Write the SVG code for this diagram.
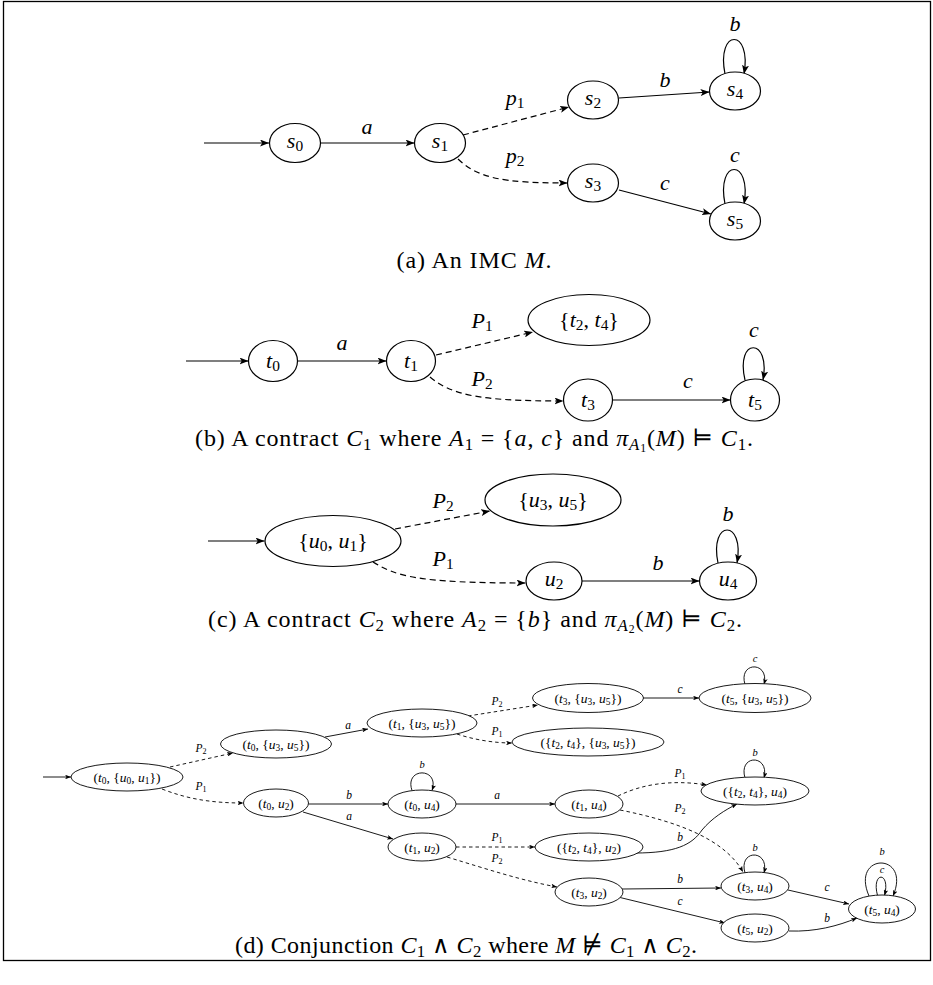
<svg xmlns="http://www.w3.org/2000/svg" width="933" height="985" viewBox="0 0 933 985">
<style>
text { font-family: "Liberation Serif", "DejaVu Serif", serif; fill: #000; }
.m { font-style: italic; }
.sb { font-size: 70%; baseline-shift: -0.22em; }
.n { fill: #fff; stroke: #000; stroke-width: 1.2; }
.ns { fill: #fff; stroke: #000; stroke-width: 0.9; }
.e { fill: none; stroke: #000; stroke-width: 1.2; marker-end: url(#ah); }
.d { stroke-dasharray: 6 4; }
.es { fill: none; stroke: #000; stroke-width: 0.9; marker-end: url(#ahs); }
.ds { stroke-dasharray: 3.5 3; }
.lb { font-size: 22px; text-anchor: middle; }
.el { font-size: 22px; text-anchor: middle; }
.cap { font-size: 24px; text-anchor: middle; }
.lbs { font-size: 13.5px; text-anchor: middle; }
.els { font-size: 11.5px; text-anchor: middle; }
.lps { font-size: 10.5px; text-anchor: middle; font-style: italic; }
</style>
<defs>
<marker id="ah" markerUnits="userSpaceOnUse" markerWidth="9" markerHeight="7" viewBox="0 0 9 7" refX="9" refY="3.5" orient="auto">
<path d="M0,0 L9,3.5 L0,7 L2.2,3.5 Z" fill="#000"/>
</marker>
<marker id="ahs" markerUnits="userSpaceOnUse" markerWidth="6" markerHeight="4.6" viewBox="0 0 9 7" refX="9" refY="3.5" orient="auto">
<path d="M0,0 L9,3.5 L0,7 L2.2,3.5 Z" fill="#000"/>
</marker>
</defs>

<rect x="3.5" y="1.5" width="927" height="959" fill="none" stroke="#000" stroke-width="1.3"/>

<!-- (a) IMC M -->
<g id="edges-a">
<path class="e" d="M204,143 L269,143"/>
<path class="e" d="M320.5,143 L414.5,143"/>
<path class="e d" d="M463,135 L569,107"/>
<path class="e d" d="M458,159 C478,178 502,183 567.5,183"/>
<path class="e" d="M619,98 L709.5,92"/>
<path class="e" d="M619,190 L711,214"/>
<path class="e" d="M725,74 C716,28 752,28 744,74"/>
<path class="e" d="M725,204 C716,158 752,158 744,204"/>
<text class="el" x="367" y="134"><tspan class="m">a</tspan></text>
<text class="el" x="515" y="105"><tspan class="m">p</tspan><tspan class="sb">1</tspan></text>
<text class="el" x="515" y="163"><tspan class="m">p</tspan><tspan class="sb">2</tspan></text>
<text class="el" x="665" y="87"><tspan class="m">b</tspan></text>
<text class="el" x="665" y="190"><tspan class="m">c</tspan></text>
<text class="el" x="735" y="31"><tspan class="m">b</tspan></text>
<text class="el" x="735" y="162"><tspan class="m">c</tspan></text>
</g>
<g id="s0"><ellipse class="n" cx="295" cy="143" rx="25.5" ry="19.5"/><text class="lb" x="295" y="148"><tspan class="m">s</tspan><tspan class="sb">0</tspan></text></g>
<g id="s1"><ellipse class="n" cx="440" cy="143" rx="25.5" ry="19.5"/><text class="lb" x="440" y="148"><tspan class="m">s</tspan><tspan class="sb">1</tspan></text></g>
<g id="s2"><ellipse class="n" cx="593" cy="100" rx="25.5" ry="19"/><text class="lb" x="593" y="105"><tspan class="m">s</tspan><tspan class="sb">2</tspan></text></g>
<g id="s3"><ellipse class="n" cx="593" cy="183" rx="25.5" ry="19"/><text class="lb" x="593" y="188"><tspan class="m">s</tspan><tspan class="sb">3</tspan></text></g>
<g id="s4"><ellipse class="n" cx="735" cy="91" rx="25.5" ry="19"/><text class="lb" x="735" y="96"><tspan class="m">s</tspan><tspan class="sb">4</tspan></text></g>
<g id="s5"><ellipse class="n" cx="735" cy="221" rx="25.5" ry="19"/><text class="lb" x="735" y="226"><tspan class="m">s</tspan><tspan class="sb">5</tspan></text></g>
<text class="cap" x="474" y="268" textLength="155">(a) An IMC <tspan class="m">M</tspan>.</text>

<!-- (b) contract C1 -->
<g id="edges-b">
<path class="e" d="M186,361 L248.5,361"/>
<path class="e" d="M297.5,361 L386.5,361"/>
<path class="e d" d="M436,355 L533,332"/>
<path class="e d" d="M430,377 C452,395 478,401 563.5,401"/>
<path class="e" d="M612.5,400 L730.5,400"/>
<path class="e" d="M745,380 C735,337 771,337 763,380"/>
<text class="el" x="342" y="350"><tspan class="m">a</tspan></text>
<text class="el" x="482" y="328"><tspan class="m">P</tspan><tspan class="sb">1</tspan></text>
<text class="el" x="482" y="386"><tspan class="m">P</tspan><tspan class="sb">2</tspan></text>
<text class="el" x="688" y="388"><tspan class="m">c</tspan></text>
<text class="el" x="754" y="337"><tspan class="m">c</tspan></text>
</g>
<g id="t0"><ellipse class="n" cx="273" cy="361" rx="24.5" ry="20.5"/><text class="lb" x="273" y="368"><tspan class="m">t</tspan><tspan class="sb">0</tspan></text></g>
<g id="t1"><ellipse class="n" cx="411" cy="361" rx="24.5" ry="20.5"/><text class="lb" x="411" y="368"><tspan class="m">t</tspan><tspan class="sb">1</tspan></text></g>
<g id="t24"><ellipse class="n" cx="589" cy="320" rx="61" ry="25.5"/><text class="lb" x="589" y="327">{<tspan class="m">t</tspan><tspan class="sb">2</tspan>, <tspan class="m">t</tspan><tspan class="sb">4</tspan>}</text></g>
<g id="t3"><ellipse class="n" cx="588" cy="400" rx="24.5" ry="21"/><text class="lb" x="588" y="407"><tspan class="m">t</tspan><tspan class="sb">3</tspan></text></g>
<g id="t5"><ellipse class="n" cx="755" cy="400" rx="24.5" ry="21"/><text class="lb" x="755" y="407"><tspan class="m">t</tspan><tspan class="sb">5</tspan></text></g>
<text class="cap" x="474" y="446" textLength="558">(b) A contract <tspan class="m">C</tspan><tspan class="sb">1</tspan> where <tspan class="m">A</tspan><tspan class="sb">1</tspan> = {<tspan class="m">a</tspan>, <tspan class="m">c</tspan>} and <tspan class="m">π</tspan><tspan class="sb"><tspan class="m">A</tspan><tspan class="sb">1</tspan></tspan>(<tspan class="m">M</tspan>) ⊨ <tspan class="m">C</tspan><tspan class="sb">1</tspan>.</text>

<!-- (c) contract C2 -->
<g id="edges-c">
<path class="e" d="M208,541 L264.5,541"/>
<path class="e d" d="M395,529 L490,511"/>
<path class="e d" d="M373,562 C396,576 416,583 525.5,583"/>
<path class="e" d="M582,581 L699.5,581"/>
<path class="e" d="M718,563 C709,519 745,519 737,563"/>
<text class="el" x="443" y="508"><tspan class="m">P</tspan><tspan class="sb">2</tspan></text>
<text class="el" x="443" y="566"><tspan class="m">P</tspan><tspan class="sb">1</tspan></text>
<text class="el" x="658" y="570"><tspan class="m">b</tspan></text>
<text class="el" x="728" y="521"><tspan class="m">b</tspan></text>
</g>
<g id="u01"><ellipse class="n" cx="333" cy="541" rx="68" ry="25.5"/><text class="lb" x="333" y="548">{<tspan class="m">u</tspan><tspan class="sb">0</tspan>, <tspan class="m">u</tspan><tspan class="sb">1</tspan>}</text></g>
<g id="u35"><ellipse class="n" cx="553" cy="500" rx="68" ry="26"/><text class="lb" x="553" y="507">{<tspan class="m">u</tspan><tspan class="sb">3</tspan>, <tspan class="m">u</tspan><tspan class="sb">5</tspan>}</text></g>
<g id="u2"><ellipse class="n" cx="554" cy="581" rx="28" ry="19"/><text class="lb" x="554" y="586"><tspan class="m">u</tspan><tspan class="sb">2</tspan></text></g>
<g id="u4"><ellipse class="n" cx="728" cy="581" rx="28.5" ry="19"/><text class="lb" x="728" y="586"><tspan class="m">u</tspan><tspan class="sb">4</tspan></text></g>
<text class="cap" x="475" y="627" textLength="534">(c) A contract <tspan class="m">C</tspan><tspan class="sb">2</tspan> where <tspan class="m">A</tspan><tspan class="sb">2</tspan> = {<tspan class="m">b</tspan>} and <tspan class="m">π</tspan><tspan class="sb"><tspan class="m">A</tspan><tspan class="sb">2</tspan></tspan>(<tspan class="m">M</tspan>) ⊨ <tspan class="m">C</tspan><tspan class="sb">2</tspan>.</text>

<!-- (d) conjunction C1 ∧ C2 -->
<g id="edges-d">
<path class="es" d="M43,777 L71,777"/>
<path class="es ds" d="M170,767 L233,753"/>
<path class="es ds" d="M162,789 C190,800 215,803 243.5,803"/>
<path class="es" d="M325,737 L368,729"/>
<path class="es ds" d="M468,716 L538,705"/>
<path class="es ds" d="M457,734 C475,740 495,743 512,743"/>
<path class="es" d="M643,698 L699,698"/>
<path class="es" d="M745,684.5 C738,661 770,661 764,684.5"/>
<path class="es" d="M308.5,804 L388,804"/>
<path class="es" d="M412,790.5 C404,767 440,767 432,790.5"/>
<path class="es" d="M456,804 L555,804"/>
<path class="es" d="M303,812 L393,839"/>
<path class="es ds" d="M456,847 L535,847"/>
<path class="es ds" d="M447,857 C490,870 520,880 557,887"/>
<path class="es ds" d="M618,796 C640,785 670,779 707,785"/>
<path class="es ds" d="M620,810 C680,822 725,840 743,872"/>
<path class="es" d="M635,853 C675,853 692,845 702,830 C712,818 725,810 737,804"/>
<path class="es" d="M745,778 C738,754 770,754 764,778"/>
<path class="es" d="M745,873 C738,849 770,849 764,873"/>
<path class="es" d="M622,889 L721,888"/>
<path class="es" d="M618,897 L725,923"/>
<path class="es" d="M788,890 L849,904"/>
<path class="es" d="M789,931 C815,932 838,926 857,918"/>
<path class="es" d="M877.5,895.5 C871,871 891,871 884.5,895.5"/>
<path class="es" d="M869,896 C850,852 912,852 893,896"/>
<text class="els" x="201" y="752"><tspan class="m">P</tspan><tspan class="sb">2</tspan></text>
<text class="els" x="201" y="790"><tspan class="m">P</tspan><tspan class="sb">1</tspan></text>
<text class="els" x="348" y="729"><tspan class="m">a</tspan></text>
<text class="els" x="497" y="705"><tspan class="m">P</tspan><tspan class="sb">2</tspan></text>
<text class="els" x="497" y="735"><tspan class="m">P</tspan><tspan class="sb">1</tspan></text>
<text class="els" x="680" y="693"><tspan class="m">c</tspan></text>
<text class="lps" x="755" y="662">c</text>
<text class="els" x="349" y="799"><tspan class="m">b</tspan></text>
<text class="els" x="349" y="820"><tspan class="m">a</tspan></text>
<text class="lps" x="422" y="768">b</text>
<text class="els" x="497" y="799"><tspan class="m">a</tspan></text>
<text class="els" x="497" y="841"><tspan class="m">P</tspan><tspan class="sb">1</tspan></text>
<text class="els" x="497" y="862"><tspan class="m">P</tspan><tspan class="sb">2</tspan></text>
<text class="lps" x="755" y="756">b</text>
<text class="els" x="680" y="777"><tspan class="m">P</tspan><tspan class="sb">1</tspan></text>
<text class="els" x="680" y="812"><tspan class="m">P</tspan><tspan class="sb">2</tspan></text>
<text class="els" x="680" y="841"><tspan class="m">b</tspan></text>
<text class="lps" x="755" y="851">b</text>
<text class="els" x="680" y="883"><tspan class="m">b</tspan></text>
<text class="els" x="680" y="905"><tspan class="m">c</tspan></text>
<text class="els" x="827" y="891"><tspan class="m">c</tspan></text>
<text class="els" x="827" y="922"><tspan class="m">b</tspan></text>
<text class="lps" x="882" y="855">b</text>
<text class="lps" x="882" y="873">c</text>
</g>
<g id="t0_u01"><ellipse class="ns" cx="127" cy="777" rx="56" ry="14"/><text class="lbs" x="127" y="781.5">(<tspan class="m">t</tspan><tspan class="sb">0</tspan>, {<tspan class="m">u</tspan><tspan class="sb">0</tspan>, <tspan class="m">u</tspan><tspan class="sb">1</tspan>})</text></g>
<g id="t0_u35"><ellipse class="ns" cx="276" cy="744" rx="55.5" ry="14"/><text class="lbs" x="276" y="748.5">(<tspan class="m">t</tspan><tspan class="sb">0</tspan>, {<tspan class="m">u</tspan><tspan class="sb">3</tspan>, <tspan class="m">u</tspan><tspan class="sb">5</tspan>})</text></g>
<g id="t0_u2"><ellipse class="ns" cx="276" cy="803" rx="32.5" ry="14"/><text class="lbs" x="276" y="807.5">(<tspan class="m">t</tspan><tspan class="sb">0</tspan>, <tspan class="m">u</tspan><tspan class="sb">2</tspan>)</text></g>
<g id="t1_u35"><ellipse class="ns" cx="422" cy="723" rx="55" ry="14"/><text class="lbs" x="422" y="727.5">(<tspan class="m">t</tspan><tspan class="sb">1</tspan>, {<tspan class="m">u</tspan><tspan class="sb">3</tspan>, <tspan class="m">u</tspan><tspan class="sb">5</tspan>})</text></g>
<g id="t3_u35"><ellipse class="ns" cx="588" cy="698" rx="55.5" ry="14.5"/><text class="lbs" x="588" y="702.5">(<tspan class="m">t</tspan><tspan class="sb">3</tspan>, {<tspan class="m">u</tspan><tspan class="sb">3</tspan>, <tspan class="m">u</tspan><tspan class="sb">5</tspan>})</text></g>
<g id="t24_u35"><ellipse class="ns" cx="588" cy="742" rx="76" ry="14"/><text class="lbs" x="588" y="746.5">({<tspan class="m">t</tspan><tspan class="sb">2</tspan>, <tspan class="m">t</tspan><tspan class="sb">4</tspan>}, {<tspan class="m">u</tspan><tspan class="sb">3</tspan>, <tspan class="m">u</tspan><tspan class="sb">5</tspan>})</text></g>
<g id="t5_u35"><ellipse class="ns" cx="755" cy="698" rx="56" ry="14.5"/><text class="lbs" x="755" y="702.5">(<tspan class="m">t</tspan><tspan class="sb">5</tspan>, {<tspan class="m">u</tspan><tspan class="sb">3</tspan>, <tspan class="m">u</tspan><tspan class="sb">5</tspan>})</text></g>
<g id="t0_u4"><ellipse class="ns" cx="422" cy="804" rx="34" ry="14"/><text class="lbs" x="422" y="808.5">(<tspan class="m">t</tspan><tspan class="sb">0</tspan>, <tspan class="m">u</tspan><tspan class="sb">4</tspan>)</text></g>
<g id="t1_u4"><ellipse class="ns" cx="589" cy="804" rx="34" ry="14"/><text class="lbs" x="589" y="808.5">(<tspan class="m">t</tspan><tspan class="sb">1</tspan>, <tspan class="m">u</tspan><tspan class="sb">4</tspan>)</text></g>
<g id="t24_u4"><ellipse class="ns" cx="755" cy="791" rx="54" ry="14"/><text class="lbs" x="755" y="795.5">({<tspan class="m">t</tspan><tspan class="sb">2</tspan>, <tspan class="m">t</tspan><tspan class="sb">4</tspan>}, <tspan class="m">u</tspan><tspan class="sb">4</tspan>)</text></g>
<g id="t1_u2"><ellipse class="ns" cx="422" cy="847" rx="34" ry="14"/><text class="lbs" x="422" y="851.5">(<tspan class="m">t</tspan><tspan class="sb">1</tspan>, <tspan class="m">u</tspan><tspan class="sb">2</tspan>)</text></g>
<g id="t24_u2"><ellipse class="ns" cx="589" cy="847" rx="54" ry="14"/><text class="lbs" x="589" y="851.5">({<tspan class="m">t</tspan><tspan class="sb">2</tspan>, <tspan class="m">t</tspan><tspan class="sb">4</tspan>}, <tspan class="m">u</tspan><tspan class="sb">2</tspan>)</text></g>
<g id="t3_u2"><ellipse class="ns" cx="589" cy="892" rx="34" ry="14"/><text class="lbs" x="589" y="896.5">(<tspan class="m">t</tspan><tspan class="sb">3</tspan>, <tspan class="m">u</tspan><tspan class="sb">2</tspan>)</text></g>
<g id="t3_u4"><ellipse class="ns" cx="755" cy="886" rx="34" ry="14"/><text class="lbs" x="755" y="890.5">(<tspan class="m">t</tspan><tspan class="sb">3</tspan>, <tspan class="m">u</tspan><tspan class="sb">4</tspan>)</text></g>
<g id="t5_u2"><ellipse class="ns" cx="755" cy="928" rx="34" ry="14"/><text class="lbs" x="755" y="932.5">(<tspan class="m">t</tspan><tspan class="sb">5</tspan>, <tspan class="m">u</tspan><tspan class="sb">2</tspan>)</text></g>
<g id="t5_u4"><ellipse class="ns" cx="882" cy="909" rx="33.5" ry="14"/><text class="lbs" x="882" y="913.5">(<tspan class="m">t</tspan><tspan class="sb">5</tspan>, <tspan class="m">u</tspan><tspan class="sb">4</tspan>)</text></g>
<text class="cap" x="466" y="953" textLength="462">(d) Conjunction <tspan class="m">C</tspan><tspan class="sb">1</tspan> ∧ <tspan class="m">C</tspan><tspan class="sb">2</tspan> where <tspan class="m">M</tspan> ⊭ <tspan class="m">C</tspan><tspan class="sb">1</tspan> ∧ <tspan class="m">C</tspan><tspan class="sb">2</tspan>.</text>
</svg>
